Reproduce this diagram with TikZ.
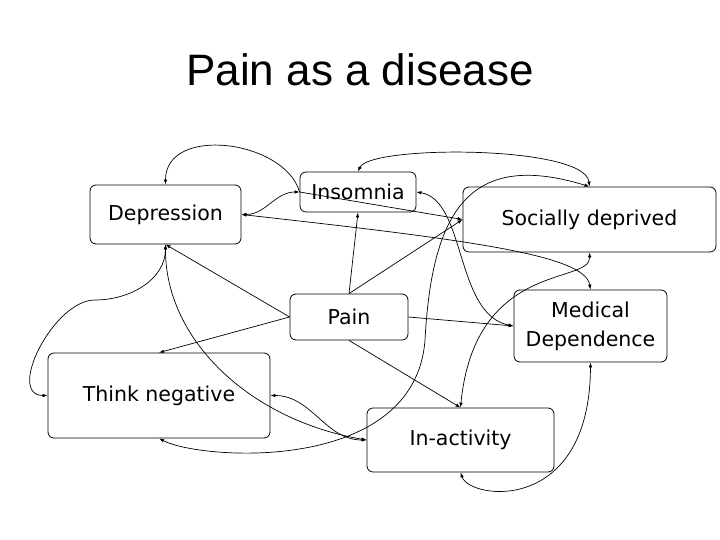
\documentclass[tikz,border=0pt]{standalone}
\usepackage{fontspec}
\setmainfont{Liberation Sans}
\newfontfamily\boxfont{DejaVu Sans}
\usetikzlibrary{arrows.meta}
\begin{document}
\begin{tikzpicture}[x=1pt,y=1pt,>={Latex[length=5pt,width=3.5pt]},
    box/.style={draw, rounded corners=6pt, line width=0.8pt, font=\boxfont\fontsize{20.5}{29}\selectfont, align=center, inner sep=0pt},
    link/.style={line width=0.7pt}]
        % Rahmen
        \useasboundingbox (0,0) rectangle (720,540);
        \node[font=\fontsize{44}{50}\selectfont] (title) at (360,470) {Pain as a disease};

        % Kästen
        \node[box, minimum width=151, minimum height=59] (dep) at (165.5,325.5) {Depression};
        \node[box, minimum width=116, minimum height=40] (ins) at (358,348) {Insomnia};
        \node[box, minimum width=253, minimum height=65] (soc) at (589.5,320.5) {Socially deprived};
        \node[box, minimum width=118, minimum height=46] (pain) at (349,223) {Pain};
        \node[box, minimum width=153, minimum height=72] (med) at (590.5,214) {Medical\\Dependence};
        \node[box, minimum width=222, minimum height=85] (think) at (159,144.5) {Think negative};
        \node[box, minimum width=187, minimum height=64] (inact) at (460.5,100) {In-activity};

        % Pfeile von Pain
        \draw[link,->] (pain.north) -- (ins.south);
        \draw[link,->] (pain.north) -- (soc.west);
        \draw[link,->] (pain.west) -- (dep.south);
        \draw[link,->] (pain.west) -- (think.north);
        \draw[link,->] (pain.east) -- (med.west);
        \draw[link,->] (pain.south) -- (inact.north);

        % Wechselwirkungen
        \draw[link,<->] (dep.north) .. controls +(0,60) and (285,400) .. (ins.west) -- (soc.west);
        \draw[link,<->] (dep.east) to[out=0,in=180] (ins.west);
        \draw[link,<->] (dep.east) .. controls (470,300) and (585,285) .. (med.north);
        \draw[link,<->] (ins.north) .. controls (370,395) and (585,395) .. (soc.north);
        \draw[link,<->] (ins.east) .. controls (466,340) and (455,225) .. (med.west);
        \draw[link,<->] (dep.south) to[out=-90,in=0] (95,240) to[out=180,in=180] (think.west);
        \draw[link,<->] (dep.south) .. controls (165,200) and (250,120) .. (inact.west);
        \draw[link,<->] (think.east) to[out=0,in=180] (inact.west);
        \draw[link,<->] (think.south) .. controls (200,80) and (415,65) .. (425,200)
            .. controls (432,330) and (470,390) .. (soc.north);
        \draw[link,<->] (inact.north) .. controls (475,280) and (591,255) .. (soc.south);
        \draw[link,<->] (inact.south) .. controls (470,40) and (590,25) .. (med.south);
\end{tikzpicture}
\end{document}
